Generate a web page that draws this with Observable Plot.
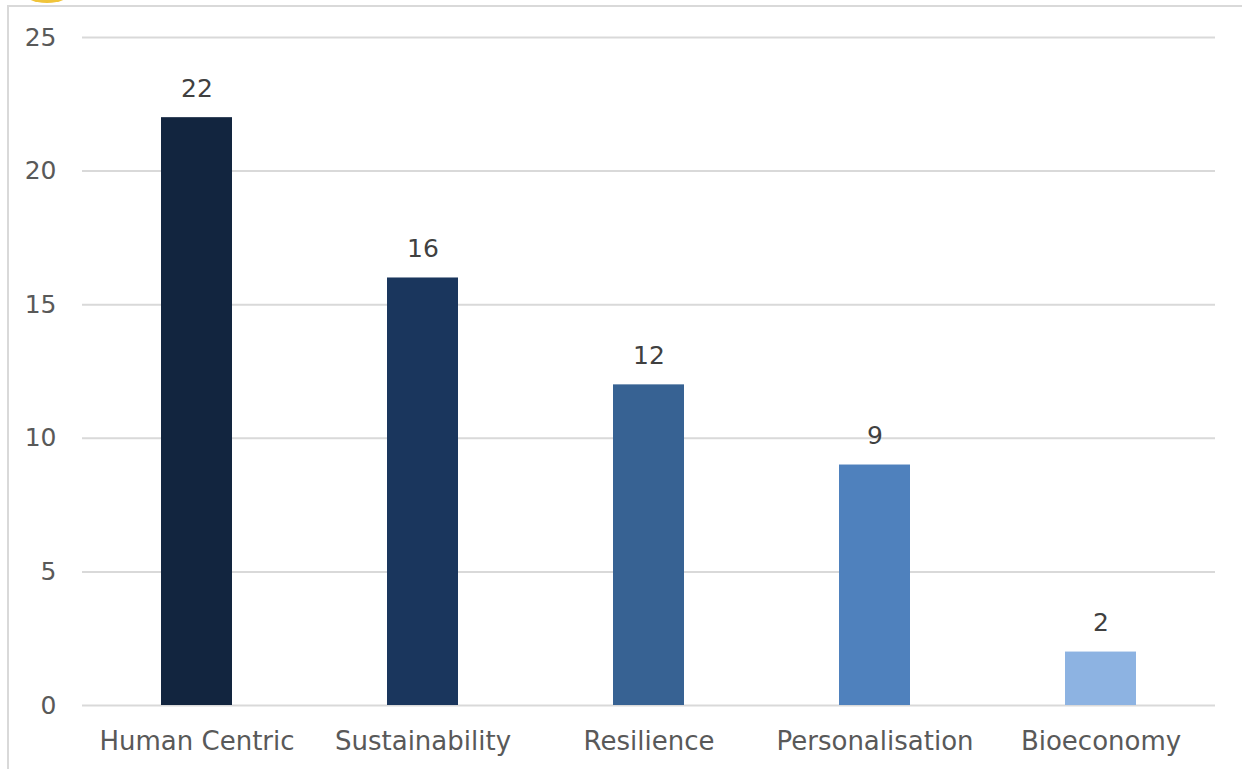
<!DOCTYPE html>
<html>
<head>
<meta charset="utf-8">
<script src="https://cdn.jsdelivr.net/npm/d3@7"></script>
<script src="https://cdn.jsdelivr.net/npm/@observablehq/plot@0.6"></script>
<style>
  html, body { margin: 0; padding: 0; background: #fff; overflow: hidden; }
  #wrap { position: relative; width: 1242px; height: 769px; }
  #frame { position: absolute; left: 7px; top: 5px; width: 1300px; height: 800px;
           border-left: 2px solid #d9d9d9; border-top: 2px solid #d9d9d9; box-sizing: border-box; }
  #blob { position: absolute; left: 22px; top: -22px; width: 50px; height: 25px; border-radius: 50%;
          background: #f0c43a; }
  #chart { position: absolute; left: 0; top: 0; }
</style>
</head>
<body>
<div id="wrap">
  <div id="blob"></div>
  <div id="frame"></div>
  <div id="chart"></div>
</div>
<script>
const categories = ["Human Centric", "Sustainability", "Resilience", "Personalisation", "Bioeconomy"];
const values = [22, 16, 12, 9, 2];
const colors = ["#12253f", "#1a365d", "#376293", "#4f81bd", "#8db3e2"];
const yTicks = [0, 5, 10, 15, 20, 25];

const data = categories.map((c, i) => ({category: c, value: values[i]}));
const font = "'DejaVu Sans', sans-serif";

const chart = Plot.plot({
  width: 1242,
  height: 769,
  marginLeft: 82,
  marginRight: 27,
  marginTop: 37,
  marginBottom: 64,
  style: {fontFamily: font, background: "transparent", overflow: "visible"},
  x: {domain: categories, paddingInner: 0.687, paddingOuter: 0.3435, label: null},
  y: {domain: [0, 25], label: null},
  color: {domain: categories, range: colors},
  marks: [
    Plot.gridY(yTicks, {stroke: "#d9d9d9", strokeWidth: 2, strokeOpacity: 1}),
    Plot.axisY(yTicks, {tickSize: 0, tickPadding: 26, fontSize: 25, fill: "#595959", label: null}),
    Plot.axisX({tickSize: 0, tickPadding: 26, fontSize: 26, fill: "#595959", label: null}),
    Plot.barY(data, {x: "category", y: "value", fill: "category"}),
    Plot.text(data, {x: "category", y: "value", text: d => String(d.value), dy: -29,
                     fontSize: 25, fill: "#404040", textAnchor: "middle"})
  ]
});
document.getElementById("chart").appendChild(chart);
</script>
</body>
</html>
